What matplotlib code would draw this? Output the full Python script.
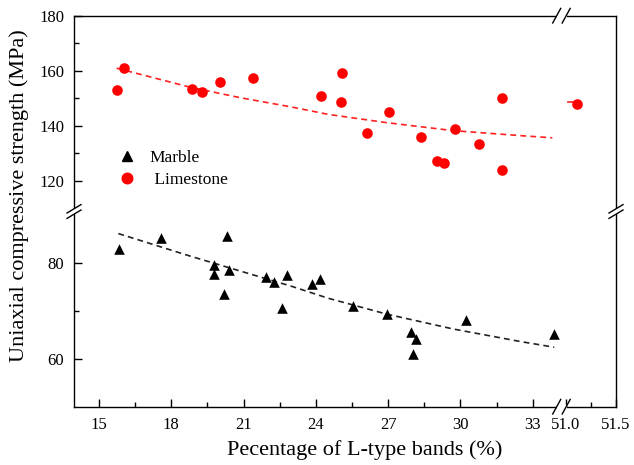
import matplotlib
matplotlib.use("Agg")
import matplotlib.pyplot as plt
from matplotlib.lines import Line2D

plt.rcParams["font.family"] = ["Liberation Serif", "DejaVu Serif"]

# Marble (triangles, lower panel)
marble_x = [15.83, 17.56, 20.32, 19.77, 19.76, 20.38, 20.20, 21.93, 22.27, 22.80,
            22.58, 23.84, 24.17, 25.55, 26.96, 27.95, 28.17, 28.02, 30.23, 33.88]
marble_y = [82.8, 85.1, 85.6, 79.5, 77.6, 78.4, 73.5, 77.1, 75.9, 77.4,
            70.6, 75.5, 76.6, 71.0, 69.3, 65.5, 64.1, 61.0, 68.1, 65.1]

# Limestone (circles, upper panel)
lime_x = [15.73, 16.04, 18.85, 19.29, 20.02, 21.40, 24.20, 25.10, 25.03, 27.05,
          26.11, 28.35, 29.76, 30.77, 29.01, 29.32, 31.71, 31.72, 51.11]
lime_y = [153.1, 161.0, 153.3, 152.4, 156.1, 157.5, 150.9, 159.4, 148.8, 145.2,
          137.3, 136.1, 138.8, 133.6, 127.4, 126.5, 150.3, 123.9, 148.1]

# fitted trend curves
marble_fit_x = [15.80, 18.78, 20.85, 22.93, 24.52, 26.94, 29.70, 32.47, 33.89]
marble_fit_y = [86.1, 81.4, 78.3, 75.2, 72.6, 69.3, 66.2, 63.6, 62.4]
lime_fit_x = [15.73, 18.78, 20.85, 22.93, 24.52, 26.94, 29.70, 32.47, 33.81]
lime_fit_y = [161.0, 154.1, 150.3, 147.0, 144.2, 141.2, 138.3, 136.5, 135.7]
lime_stub_x = [51.023, 51.073]
lime_stub_y = [148.8, 148.8]

x_major = [15, 18, 21, 24, 27, 30, 33]
x_minor = [16.5, 19.5, 22.5, 25.5, 28.5, 31.5]
x_major_r = [51.0, 51.5]
x_minor_r = [51.25]
y_major_top = [120, 140, 160, 180]
y_minor_top = [130, 150, 170]
y_major_bot = [60, 80]
y_minor_bot = [70]

W, H = 634, 465
fig = plt.figure(figsize=(W / 100, H / 100), dpi=100)


def box(x0, y0, x1, y1):
    return [x0 / W, 1 - y1 / H, (x1 - x0) / W, (y1 - y0) / H]


XL, XB, XR = 74, 561.7, 616
YT, YB, YBOT = 15.7, 211.5, 406.7
ax_tl = fig.add_axes(box(XL, YT, XB, YB))
ax_tr = fig.add_axes(box(XB, YT, XR, YB))
ax_bl = fig.add_axes(box(XL, YB, XB, YBOT))
ax_br = fig.add_axes(box(XB, YB, XR, YBOT))

for ax in (ax_tl, ax_bl):
    ax.set_xlim(13.96, 34.2)
for ax in (ax_tr, ax_br):
    ax.set_xlim(50.957, 51.5)
for ax in (ax_tl, ax_tr):
    ax.set_ylim(108.9, 180.1)
for ax in (ax_bl, ax_br):
    ax.set_ylim(50, 90.7)

for ax in (ax_tl, ax_tr, ax_bl, ax_br):
    for s in ax.spines.values():
        s.set_linewidth(1.0)
    ax.tick_params(which="both", direction="in", width=1.0, labelsize=12)
    ax.tick_params(which="major", length=6)
    ax.tick_params(which="minor", length=3.6)
    ax.set_xticks([])
    ax.set_yticks([])

ax_tl.spines[["bottom", "right"]].set_visible(False)
ax_tr.spines[["bottom", "left"]].set_visible(False)
ax_bl.spines[["top", "right"]].set_visible(False)
ax_br.spines[["top", "left"]].set_visible(False)

ax_tl.set_yticks(y_major_top)
ax_tl.set_yticks(y_minor_top, minor=True)
ax_bl.set_yticks(y_major_bot)
ax_bl.set_yticks(y_minor_bot, minor=True)
ax_bl.set_xticks(x_major)
ax_bl.set_xticks(x_minor, minor=True)
ax_br.set_xticks(x_major_r)
ax_br.set_xticklabels(["51.0", "51.5"])
ax_br.set_xticks(x_minor_r, minor=True)
for ax in (ax_tl, ax_bl):
    ax.tick_params(axis="y", pad=7)
for ax in (ax_bl, ax_br):
    ax.tick_params(axis="x", pad=7.5)

dash = (0, (3.5, 2.5))
ax_tl.plot(lime_fit_x, lime_fit_y, color="#ff2020", lw=1.2, ls=dash, zorder=2)
ax_tr.plot(lime_stub_x, lime_stub_y, color="#ff2020", lw=1.2, zorder=2)
ax_bl.plot(marble_fit_x, marble_fit_y, color="#222222", lw=1.2, ls=dash, zorder=2)

ms = 58
for ax in (ax_tl, ax_tr):
    ax.scatter(lime_x, lime_y, s=ms, marker="o", color="#ff0000", lw=0, zorder=3, clip_on=True)
ax_bl.scatter(marble_x, marble_y, s=ms, marker="^", color="black", lw=0, zorder=3)

handles = [Line2D([], [], marker="^", color="black", ls="none", markersize=7.6),
           Line2D([], [], marker="o", color="#ff0000", ls="none", markersize=7.6)]
fig.legend(handles, ["Marble", " Limestone"], loc="upper left",
           bbox_to_anchor=(118.7 / W, 1 - 149.5 / H), frameon=False, fontsize=12.5,
           handlelength=1.0, handletextpad=0.8, labelspacing=0.35,
           borderpad=0, borderaxespad=0)

fig.text(365 / W, 1 - 450 / H, "Pecentage of L-type bands (%)", fontsize=16,
         ha="center", va="center")
fig.text(19 / W, 1 - 196 / H, "Uniaxial compressive strength (MPa)", fontsize=16,
         rotation=90, ha="center", va="center")


# break marks, drawn in pixel units on the figure
def px_line(xs, ys, **kw):
    fig.add_artist(Line2D([x / W for x in xs], [1 - y / H for y in ys],
                          transform=fig.transFigure, **kw))


for yy in (YT, YBOT):
    px_line([XB - 5, XB + 5], [yy, yy], color="white", lw=3, solid_capstyle="butt")
    for cx in (XB - 5, XB + 4.5):
        px_line([cx - 4, cx + 4], [yy + 7.3, yy - 7.3], color="black", lw=1.0)

for xx in (XL, XR):
    px_line([xx, xx], [YB - 2.7, YB + 2.7], color="white", lw=3, solid_capstyle="butt")
    for cy in (YB - 2.7, YB + 2.7):
        px_line([xx - 7, xx + 7], [cy + 4.2, cy - 4.2], color="black", lw=1.0)

fig.savefig("out.png", dpi=100)
